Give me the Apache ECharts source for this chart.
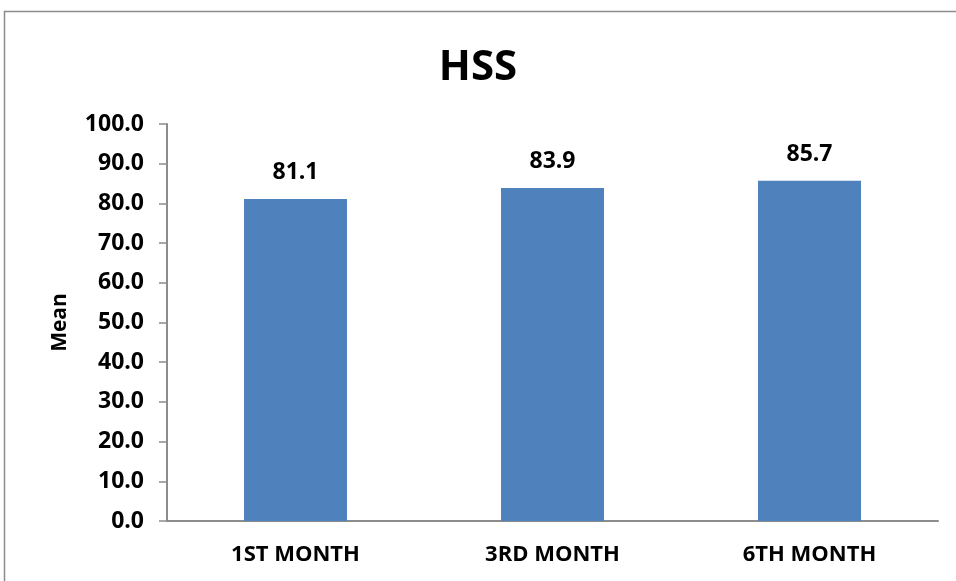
<!DOCTYPE html>
<html>
<head>
<meta charset="utf-8">
<script src="https://cdn.jsdelivr.net/npm/echarts@6/dist/echarts.min.js"></script>
<style>
  html, body { margin: 0; padding: 0; background: #fff; }
  #main { width: 956px; height: 581px; }
</style>
</head>
<body>
<div id="main"></div>
<script>
// data
var categories = ['1ST MONTH', '3RD MONTH', '6TH MONTH']
var meanValues = [81.1, 83.9, 85.7]

var fontFam = '"Open Sans", "Liberation Sans", sans-serif'

var chart = echarts.init(document.getElementById('main'))
chart.setOption({
  animation: false,
  title: {
    text: 'HSS',
    left: 'center',
    top: 42,
    textStyle: { fontFamily: fontFam, fontSize: 42, fontWeight: 'bold', color: '#000' }
  },
  graphic: [{
    type: 'rect',
    silent: true,
    shape: { x: 4.5, y: 11.5, width: 1000, height: 1000 },
    style: { fill: 'none', stroke: '#8c8c8c', lineWidth: 1.5 }
  }],
  grid: { left: 167, right: 18, top: 124, bottom: 60 },
  xAxis: {
    type: 'category',
    data: categories,
    axisTick: { show: false },
    axisLine: { lineStyle: { color: '#8c8c8c', width: 2 } },
    axisLabel: { fontFamily: fontFam, fontSize: 22, fontWeight: 'bold', color: '#000', margin: 23 }
  },
  yAxis: {
    type: 'value',
    min: 0,
    max: 100,
    interval: 10,
    name: 'Mean',
    nameLocation: 'middle',
    nameGap: 96,
    nameTextStyle: { fontFamily: fontFam, fontSize: 21, fontWeight: 'bold', color: '#000' },
    splitLine: { show: false },
    axisLine: { show: true, lineStyle: { color: '#8c8c8c', width: 2 } },
    axisTick: { show: true, length: 8, lineStyle: { color: '#8c8c8c', width: 1.5 } },
    axisLabel: {
      fontFamily: fontFam, fontSize: 23, fontWeight: 'bold', color: '#000', margin: 23,
      formatter: function (v) { return v.toFixed(1) }
    }
  },
  series: [{
    type: 'bar',
    data: meanValues,
    barWidth: 103,
    itemStyle: { color: '#4f81bd' },
    label: {
      show: true,
      position: 'top',
      distance: 15,
      fontFamily: fontFam, fontSize: 23, fontWeight: 'bold', color: '#000',
      formatter: function (p) { return p.value.toFixed(1) }
    }
  }]
})
</script>
</body>
</html>
